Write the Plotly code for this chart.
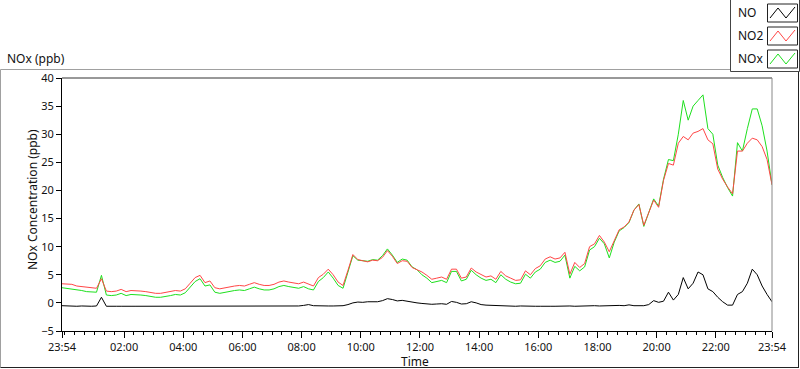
import pandas as pd
import plotly.graph_objects as go

# ---------------- data (10-minute samples) ----------------
start_time = "2020-01-01 23:54"
step_minutes = 10

series_names = ["NO", "NO2", "NOx"]
series_colors = ["#000000", "#ff4646", "#1ee01e"]

no2 = [3.4, 3.3, 3.3, 3.0, 2.9, 2.7, 2.7, 2.6, 4.3, 2.1,
       2.0, 2.1, 2.4, 2.0, 2.2, 2.2, 2.1, 2.0, 1.85, 1.7,
       1.7, 1.85, 2.0, 2.2, 2.1, 2.5, 3.5, 4.5, 4.9, 3.6,
       3.9, 2.7, 2.5, 2.7, 2.8, 3.0, 3.1, 3.0, 3.3, 3.6,
       3.3, 3.1, 3.1, 3.3, 3.7, 3.9, 3.7, 3.6, 3.4, 3.7,
       3.3, 3.0, 4.5, 5.1, 6.0, 5.0, 3.7, 3.1, 5.8, 8.6,
       7.7, 7.5, 7.3, 7.6, 7.5, 8.1, 9.3, 8.3, 7.0, 7.5,
       7.4, 6.3, 5.9, 5.5, 4.9, 4.2, 4.4, 4.6, 4.2, 6.0,
       6.0, 4.4, 4.6, 6.2, 5.5, 5.0, 4.6, 4.8, 4.2, 5.6,
       4.8, 4.4, 4.0, 4.1, 5.7, 5.0, 6.1, 6.6, 7.8, 8.2,
       7.8, 8.0, 9.0, 5.1, 7.2, 6.3, 7.0, 10.0, 10.5, 12.0,
       10.8, 9.1, 11.1, 13.0, 13.5, 14.4, 16.5, 17.5, 13.8, 16.0,
       18.3, 17.0, 21.8, 24.8, 24.5, 28.4, 29.6, 29.0, 30.2, 30.5,
       31.0, 29.0, 28.3, 23.8, 22.0, 20.6, 19.4, 27.0, 27.0, 28.4,
       29.3, 29.0, 27.8, 25.5, 21.0]

nox = [2.7, 2.6, 2.5, 2.3, 2.2, 2.0, 1.9, 1.9, 4.9, 1.4,
       1.3, 1.4, 1.7, 1.3, 1.5, 1.5, 1.4, 1.3, 1.1, 1.0,
       1.0, 1.1, 1.3, 1.5, 1.4, 1.8, 2.8, 3.8, 4.3, 3.0,
       3.2, 1.9, 1.7, 1.9, 2.0, 2.2, 2.3, 2.2, 2.5, 2.8,
       2.5, 2.3, 2.3, 2.5, 2.9, 3.1, 2.9, 2.8, 2.6, 2.9,
       2.5, 2.3, 3.8, 4.5, 5.5, 4.4, 3.1, 2.6, 5.4, 8.4,
       7.6, 7.5, 7.4, 7.7, 7.6, 8.4, 9.6, 8.5, 7.2, 7.8,
       7.6, 6.4, 5.9, 5.0, 4.4, 3.6, 3.8, 4.0, 3.6, 5.6,
       5.6, 3.9, 4.2, 5.8, 5.0, 4.4, 4.0, 4.2, 3.6, 5.0,
       4.2, 3.7, 3.4, 3.5, 5.1, 4.4, 5.5, 6.0, 7.2, 7.6,
       7.2, 7.4, 8.5, 4.4, 6.5, 5.7, 6.4, 9.4, 10.0, 11.5,
       10.5, 8.0, 10.8, 12.8, 13.4, 14.3, 16.5, 17.6, 13.6, 16.2,
       18.5, 17.2, 22.0, 25.5, 25.3, 30.0, 36.0, 32.5, 35.0, 36.0,
       37.0, 31.0, 30.0, 24.5, 22.3, 20.5, 19.0, 28.5, 27.0, 31.0,
       34.5, 34.5, 31.5, 27.0, 21.0]

no = [-0.5, -0.55, -0.55, -0.6, -0.55, -0.6, -0.6, -0.55, 1.0, -0.6,
      -0.55, -0.6, -0.6, -0.55, -0.6, -0.6, -0.6, -0.55, -0.6, -0.6,
      -0.6, -0.55, -0.6, -0.6, -0.55, -0.6, -0.6, -0.55, -0.6, -0.6,
      -0.55, -0.6, -0.6, -0.55, -0.6, -0.6, -0.55, -0.55, -0.6, -0.55,
      -0.55, -0.6, -0.55, -0.55, -0.6, -0.55, -0.55, -0.6, -0.55, -0.45,
      -0.3, -0.5, -0.55, -0.5, -0.55, -0.55, -0.5, -0.5, -0.3, 0.0,
      0.15, 0.1, 0.2, 0.15, 0.2, 0.4, 0.75, 0.6, 0.35, 0.45,
      0.3, 0.05, 0.0, -0.1, -0.2, -0.25, -0.2, -0.15, -0.25, 0.25,
      0.1, -0.2, -0.15, 0.2, 0.0, -0.3, -0.4, -0.45, -0.5, -0.55,
      -0.5, -0.55, -0.6, -0.55, -0.6, -0.55, -0.6, -0.6, -0.55, -0.6,
      -0.6, -0.55, -0.6, -0.55, -0.6, -0.55, -0.6, -0.55, -0.5, -0.55,
      -0.5, -0.55, -0.5, -0.45, -0.5, -0.35, -0.5, -0.45, -0.5, -0.3,
      0.4, 0.1, 0.3, 1.9, 0.5, 1.5, 4.5, 2.5, 3.5, 5.5,
      5.0, 2.5, 2.0, 1.0, 0.2, -0.4, -0.4, 1.5, 2.0, 3.5,
      6.0, 5.0, 3.0, 1.5, 0.2]

x_range = ["2020-01-01 23:54", "2020-01-02 23:54"]
tick_vals = ["2020-01-01 23:54", "2020-01-02 02:00", "2020-01-02 04:00",
             "2020-01-02 06:00", "2020-01-02 08:00", "2020-01-02 10:00",
             "2020-01-02 12:00", "2020-01-02 14:00", "2020-01-02 16:00",
             "2020-01-02 18:00", "2020-01-02 20:00", "2020-01-02 22:00",
             "2020-01-02 23:54"]
tick_text = ["23:54", "02:00", "04:00", "06:00", "08:00", "10:00", "12:00",
             "14:00", "16:00", "18:00", "20:00", "22:00", "23:54"]

times = pd.date_range(start_time, periods=len(no2), freq=f"{step_minutes}min")

# ---------------- figure ----------------
W, H = 800, 369
FONT = "Noto Sans"


def px(x):
    return x / W


def py(y):
    return 1 - y / H


fig = go.Figure()
values = {"NO": no, "NO2": no2, "NOx": nox}
for name in ["NOx", "NO2", "NO"]:
    color = series_colors[series_names.index(name)]
    fig.add_trace(go.Scatter(x=times, y=values[name], mode="lines", name=name,
                             line=dict(color=color, width=1), showlegend=False,
                             hoverinfo="skip"))

plot_l, plot_r, plot_t, plot_b = 62, 772, 78, 331

fig.update_layout(
    template="none",
    width=W, height=H,
    margin=dict(l=0, r=0, t=0, b=0, pad=0, autoexpand=False),
    paper_bgcolor="white", plot_bgcolor="white",
    showlegend=False,
    hovermode=False,
    font=dict(family=FONT, size=11, color="#111111"),
    xaxis=dict(
        type="date", range=x_range, domain=[px(plot_l), px(plot_r)],
        automargin=False,
        tickmode="array", tickvals=tick_vals, ticktext=tick_text,
        ticks="outside", ticklen=6, tickcolor="black", tickwidth=1,
        showline=True, linecolor="black", linewidth=1,
        showgrid=False, zeroline=False,
        tickfont=dict(family=FONT, size=11, color="#111111"),
        minor=dict(ticks="outside", ticklen=3, tickcolor="black", tickwidth=1,
                   dtick=20 * 60 * 1000, tick0="2020-01-02 00:00", showgrid=False),
    ),
    yaxis=dict(
        range=[-5, 40], domain=[py(plot_b), py(plot_t)],
        automargin=False,
        tickmode="linear", tick0=0, dtick=5,
        ticks="outside", ticklen=5, tickcolor="black", tickwidth=1,
        showline=True, linecolor="black", linewidth=1,
        showgrid=False, zeroline=False,
        tickfont=dict(family=FONT, size=11, color="#111111"),
    ),
)

shapes = []
# plot area top and right frame
shapes.append(dict(type="line", xref="paper", yref="paper", x0=px(plot_l), x1=px(plot_r),
                   y0=py(plot_t), y1=py(plot_t), line=dict(color="#333333", width=1)))
shapes.append(dict(type="line", xref="paper", yref="paper", x0=px(plot_r), x1=px(plot_r),
                   y0=py(plot_t), y1=py(plot_b), line=dict(color="#888888", width=1)))
# outer panel frame
shapes.append(dict(type="line", xref="paper", yref="paper", x0=px(0.5), x1=px(730),
                   y0=py(69.5), y1=py(69.5), line=dict(color="#a0a0a0", width=1)))
shapes.append(dict(type="line", xref="paper", yref="paper", x0=px(0.5), x1=px(0.5),
                   y0=py(69.5), y1=py(367.5), line=dict(color="#a0a0a0", width=1)))
shapes.append(dict(type="line", xref="paper", yref="paper", x0=px(0.5), x1=px(799),
                   y0=py(367.5), y1=py(367.5), line=dict(color="#222222", width=1)))
shapes.append(dict(type="line", xref="paper", yref="paper", x0=px(798.5), x1=px(798.5),
                   y0=py(70), y1=py(367.5), line=dict(color="#222222", width=1)))
# legend box
shapes.append(dict(type="rect", xref="paper", yref="paper", x0=px(730.5), x1=px(799.5),
                   y0=py(71.5), y1=py(-1), line=dict(color="#444444", width=1),
                   fillcolor="white"))

annotations = []
row_centers = [13, 36, 59]
for name, color, yc in zip(series_names, series_colors, row_centers):
    annotations.append(dict(text=name, x=px(736), y=py(yc), xref="paper", yref="paper",
                            xanchor="left", yanchor="middle", showarrow=False,
                            font=dict(family=FONT, size=12, color="#111111")))
    shapes.append(dict(type="rect", xref="paper", yref="paper", x0=px(767.5), x1=px(797.5),
                       y0=py(yc - 9), y1=py(yc + 9), line=dict(color="#222222", width=1)))
    pts = [(770, yc + 5), (778, yc - 5), (786, yc + 5), (795, yc - 6)]
    path = "M " + " L ".join(f"{px(a)},{py(b)}" for a, b in pts)
    shapes.append(dict(type="path", xref="paper", yref="paper", path=path,
                       line=dict(color=color, width=1)))

annotations.append(dict(text="NOx (ppb)", x=px(5), y=py(59), xref="paper", yref="paper",
                        xanchor="left", yanchor="middle", showarrow=False,
                        font=dict(family=FONT, size=12, color="#111111")))
annotations.append(dict(text="Time", x=px(415), y=py(361), xref="paper", yref="paper",
                        xanchor="center", yanchor="middle", showarrow=False,
                        font=dict(family=FONT, size=12, color="#111111")))
annotations.append(dict(text="NOx Concentration (ppb)", x=px(33), y=py(200), xref="paper",
                        yref="paper", xanchor="center", yanchor="middle", textangle=-90,
                        showarrow=False, font=dict(family=FONT, size=12, color="#111111")))

fig.update_layout(shapes=shapes, annotations=annotations)
fig.write_html(
    "out.html",
    config={"displayModeBar": False, "staticPlot": True},
    post_script="document.body.style.margin='0';document.body.style.padding='0';"
                "document.documentElement.style.overflow='hidden';",
)
